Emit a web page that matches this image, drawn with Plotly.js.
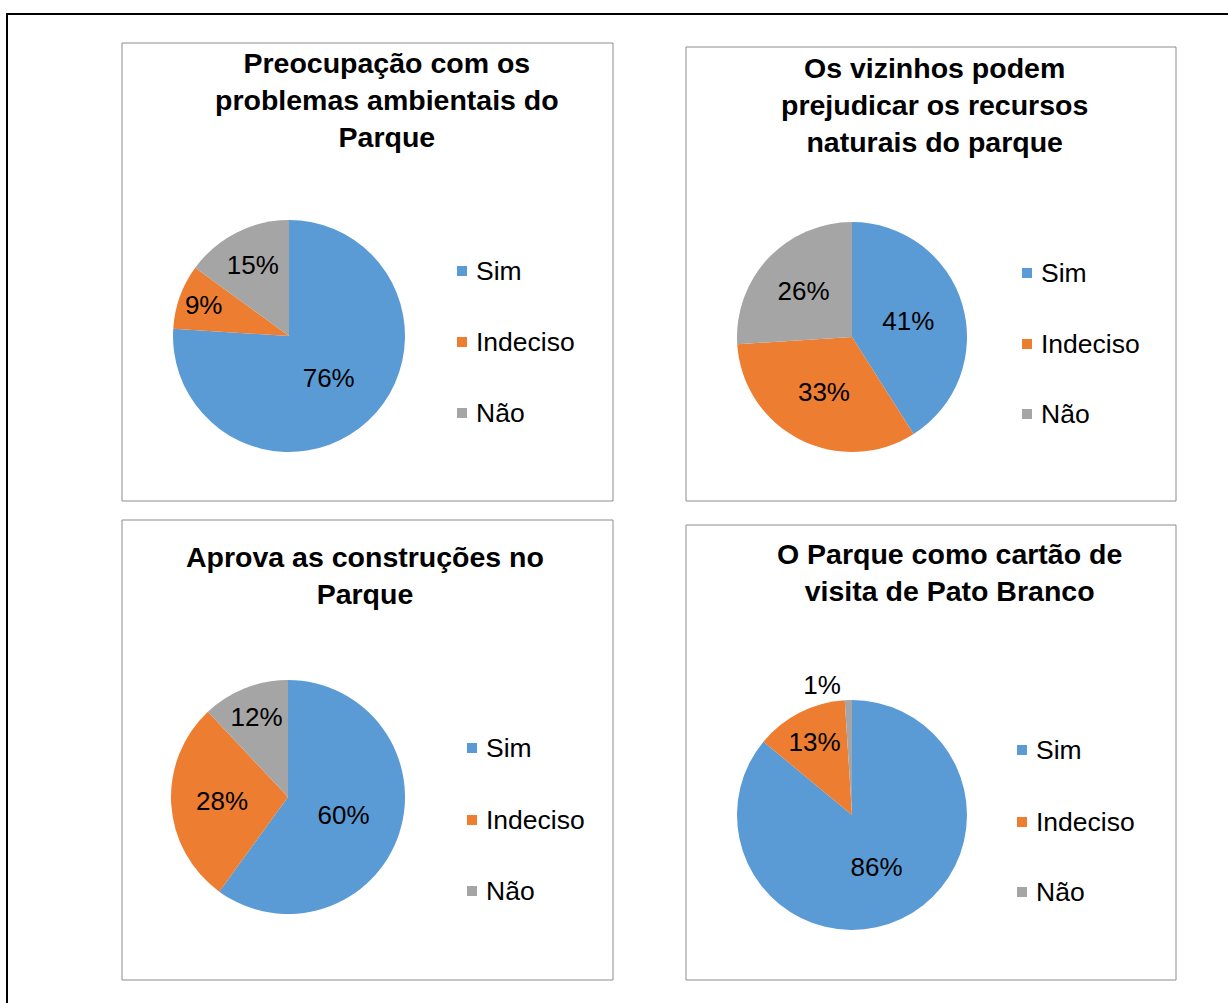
<!DOCTYPE html>
<html>
<head>
<meta charset="utf-8">
<script src="https://cdn.plot.ly/plotly-3.0.1.min.js"></script>
<style>
html,body{margin:0;padding:0;background:#fff;}
#chart{width:1228px;height:1003px;}
</style>
</head>
<body>
<div id="chart"></div>
<script>
// ---- data ----
const categories = ["Sim", "Indeciso", "Não"];
const titles = [
  "Preocupação com os<br>problemas ambientais do<br>Parque",
  "Os vizinhos podem<br>prejudicar os recursos<br>naturais do parque",
  "Aprova as construções no<br>Parque",
  "O Parque como cartão de<br>visita de Pato Branco"
];
const valuesPreocupacao = [76, 9, 15];
const valuesVizinhos = [41, 33, 26];
const valuesConstrucoes = [60, 28, 12];
const valuesCartao = [86, 13, 1];
const seriesValues = [valuesPreocupacao, valuesVizinhos, valuesConstrucoes, valuesCartao];

// ---- styles / layout geometry (pixels) ----
const colors = ["#5B9BD5", "#ED7D31", "#A5A5A5"];
const W = 1228, H = 1003;
const FONT = "Liberation Sans, Arial, sans-serif";
const panels = [
  {x0:122, x1:613, y0:43,  y1:501, cx:289, cy:336, r:116, tx:387, ty:100, lx:462, ly:[271,342,413], tpos:["inside","inside","inside"]},
  {x0:686, x1:1176,y0:47,  y1:501, cx:852, cy:337, r:115, tx:934, ty:105, lx:1027,ly:[273,344,414], tpos:["inside","inside","inside"]},
  {x0:122, x1:613, y0:520, y1:980, cx:288, cy:797, r:117, tx:365, ty:575, lx:472, ly:[748,820,891], tpos:["inside","inside","inside"]},
  {x0:686, x1:1176,y0:525, y1:980, cx:852, cy:815, r:115, tx:949, ty:572, lx:1022,ly:[750,822,892], tpos:["inside","inside","outside"]}
];
const px = x => x / W;
const py = y => 1 - y / H;

const traces = [];
const shapes = [];
const annotations = [];

// outer frame
shapes.push({type:"rect", xref:"paper", yref:"paper", x0:px(7), x1:px(1240), y0:py(1015), y1:py(14),
  line:{color:"#000", width:2}, fillcolor:"rgba(0,0,0,0)", layer:"below"});

panels.forEach((p, i) => {
  shapes.push({type:"rect", xref:"paper", yref:"paper", x0:px(p.x0), x1:px(p.x1), y0:py(p.y1), y1:py(p.y0),
    line:{color:"#8c8c8c", width:1}, fillcolor:"rgba(0,0,0,0)", layer:"below"});
  traces.push({
    type:"pie",
    labels: categories,
    values: seriesValues[i],
    sort:false,
    direction:"clockwise",
    rotation:0,
    marker:{colors:colors, line:{color:"#fff", width:0}},
    textinfo:"percent",
    texttemplate:"%{percent:.0%}",
    textposition:p.tpos,
    insidetextorientation:"horizontal",
    textfont:{family:FONT, size:26, color:"#000"},
    insidetextfont:{family:FONT, size:26, color:"#000"},
    outsidetextfont:{family:FONT, size:26, color:"#000"},
    hoverinfo:"none",
    showlegend:false,
    domain:{x:[px(p.cx-p.r), px(p.cx+p.r)], y:[py(p.cy+p.r), py(p.cy-p.r)]}
  });
  annotations.push({xref:"paper", yref:"paper", x:px(p.tx), y:py(p.ty), xanchor:"center", yanchor:"middle",
    text:titles[i], showarrow:false, align:"center",
    font:{family:FONT, size:28.5, color:"#000", weight:"bold"}});
  categories.forEach((c, k) => {
    shapes.push({type:"rect", xref:"paper", yref:"paper",
      x0:px(p.lx-5), x1:px(p.lx+5), y0:py(p.ly[k]+5), y1:py(p.ly[k]-5),
      line:{width:0}, fillcolor:colors[k]});
    annotations.push({xref:"paper", yref:"paper", x:px(p.lx+12), y:py(p.ly[k]), xanchor:"left", yanchor:"middle",
      text:c, showarrow:false, font:{family:FONT, size:26.5, color:"#000"}});
  });
});

const layout = {
  width:W, height:H,
  margin:{l:0, r:0, t:0, b:0},
  paper_bgcolor:"#fff",
  plot_bgcolor:"#fff",
  showlegend:false,
  shapes:shapes,
  annotations:annotations
};
Plotly.newPlot("chart", traces, layout, {staticPlot:true, displayModeBar:false});
</script>
</body>
</html>
